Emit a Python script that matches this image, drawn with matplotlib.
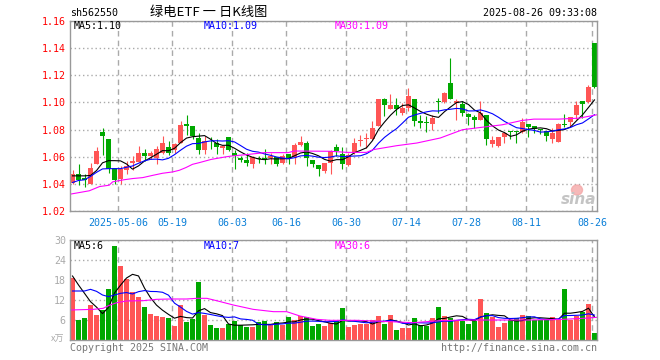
import matplotlib
matplotlib.use("Agg")
import matplotlib.pyplot as plt
from matplotlib.patches import Ellipse
import numpy as np
import pandas as pd

# daily OHLC (88 sessions, 2025-04-21 .. 2025-08-26)
opens = [1.0405, 1.047, 1.0445, 1.040, 1.055, 1.078, 1.0727, 1.052, 1.0434, 1.050,
         1.0555, 1.0563, 1.0625, 1.0605, 1.059, 1.063, 1.0673, 1.065, 1.070, 1.0838,
         1.083, 1.0735, 1.0648, 1.071, 1.0703, 1.0665, 1.0746, 1.0625, 1.0593, 1.0573,
         1.0549, 1.059, 1.0588, 1.059, 1.0598, 1.0551, 1.0617, 1.0598, 1.0683, 1.0698,
         1.0573, 1.0537, 1.0495, 1.0556, 1.0672, 1.0622, 1.0541, 1.0627, 1.0714, 1.0731,
         1.0731, 1.083, 1.1027, 1.0953, 1.0978, 1.0923, 1.0961, 1.1022, 1.0862, 1.0852,
         1.0844, 1.101, 1.1003, 1.1141, 1.0999, 1.0985, 1.0916, 1.0891, 1.0867, 1.0909,
         1.0694, 1.0679, 1.0748, 1.079, 1.079, 1.078, 1.084, 1.083, 1.0805, 1.0793,
         1.0728, 1.0706, 1.0842, 1.0859, 1.0909, 1.1007, 1.100, 1.1435]
highs = [1.0505, 1.055, 1.047, 1.0555, 1.067, 1.081, 1.073, 1.052, 1.053, 1.057,
         1.0605, 1.068, 1.066, 1.064, 1.068, 1.075, 1.0715, 1.070, 1.086, 1.091,
         1.083, 1.0775, 1.0755, 1.0745, 1.0727, 1.068, 1.0746, 1.065, 1.0605, 1.0625,
         1.0605, 1.0605, 1.066, 1.063, 1.060, 1.0617, 1.0617, 1.0703, 1.0751, 1.0715,
         1.0573, 1.0537, 1.0556, 1.0653, 1.0696, 1.0672, 1.0627, 1.0738, 1.0763, 1.0775,
         1.0862, 1.1027, 1.1035, 1.1064, 1.1035, 1.0998, 1.1109, 1.1027, 1.0911, 1.0899,
         1.0911, 1.1035, 1.1077, 1.1331, 1.1022, 1.101, 1.092, 1.0909, 1.1007, 1.0909,
         1.0753, 1.0743, 1.0785, 1.079, 1.079, 1.0884, 1.0842, 1.083, 1.0805, 1.0793,
         1.081, 1.0847, 1.0916, 1.0891, 1.1007, 1.1007, 1.1131, 1.1435]
lows = [1.040, 1.039, 1.038, 1.040, 1.0545, 1.061, 1.048, 1.040, 1.0398, 1.047,
        1.050, 1.056, 1.0568, 1.058, 1.055, 1.0617, 1.061, 1.063, 1.070, 1.0763,
        1.0727, 1.0617, 1.0617, 1.066, 1.0622, 1.0622, 1.064, 1.0512, 1.056, 1.0532,
        1.0515, 1.0556, 1.0545, 1.055, 1.053, 1.0544, 1.0544, 1.0544, 1.0678, 1.0532,
        1.0527, 1.0459, 1.0483, 1.0471, 1.0602, 1.0511, 1.0528, 1.0622, 1.0677, 1.0664,
        1.0726, 1.083, 1.0899, 1.0948, 1.0911, 1.0911, 1.0936, 1.0825, 1.0812, 1.078,
        1.080, 1.0923, 1.0998, 1.1022, 1.0874, 1.0899, 1.0835, 1.081, 1.0867, 1.0686,
        1.0674, 1.0669, 1.0699, 1.0728, 1.0704, 1.0773, 1.0743, 1.0778, 1.0768, 1.0716,
        1.0699, 1.0706, 1.0822, 1.0822, 1.0877, 1.0884, 1.0995, 1.1109]
closes = [1.047, 1.043, 1.0425, 1.052, 1.0645, 1.0755, 1.051, 1.0425, 1.0512, 1.053,
          1.0565, 1.063, 1.0605, 1.063, 1.066, 1.070, 1.0625, 1.0695, 1.0837, 1.083,
          1.075, 1.0646, 1.0715, 1.0705, 1.0673, 1.068, 1.0649, 1.0605, 1.0573, 1.0556,
          1.0598, 1.0585, 1.058, 1.0605, 1.0549, 1.0605, 1.0593, 1.0683, 1.0707, 1.0588,
          1.0549, 1.0507, 1.0551, 1.0641, 1.0644, 1.0548, 1.0615, 1.0701, 1.0726, 1.0738,
          1.0812, 1.1022, 1.0978, 1.0978, 1.0948, 1.0961, 1.1047, 1.0862, 1.085, 1.0848,
          1.0886, 1.1003, 1.1072, 1.1022, 1.101, 1.0923, 1.0896, 1.0867, 1.0921, 1.0728,
          1.0723, 1.0743, 1.0773, 1.0783, 1.0783, 1.0859, 1.0817, 1.0805, 1.0798, 1.0753,
          1.0773, 1.084, 1.0837, 1.0891, 1.0983, 1.099, 1.1114, 1.1115]
# volume in 10k lots ("万")
volumes = [18.7, 6.0, 6.6, 10.5, 7.5, 9.0, 15.3, 28.2, 22.2, 18.3,
           14.5, 12.9, 9.9, 7.8, 7.2, 6.9, 6.6, 4.2, 10.5, 5.4,
           6.3, 17.4, 7.5, 4.5, 3.6, 3.6, 4.8, 5.7, 4.5, 3.9,
           3.9, 5.4, 5.7, 4.5, 5.4, 4.5, 6.9, 6.0, 7.2, 6.9,
           4.2, 4.8, 4.2, 5.0, 5.8, 9.6, 3.9, 4.5, 4.8, 4.8,
           6.0, 7.2, 4.8, 7.5, 3.0, 3.6, 3.6, 6.6, 4.5, 4.2,
           6.6, 9.9, 7.2, 6.6, 6.0, 5.7, 4.8, 5.7, 12.3, 8.1,
           6.9, 3.9, 5.1, 6.0, 6.6, 7.5, 7.2, 6.0, 6.0, 6.0,
           6.9, 6.0, 15.3, 6.0, 7.2, 8.4, 10.8, 2.1]

date_ticks = [8, 17, 27, 36, 46, 56, 66, 76, 87]
date_labels = ["2025-05-06", "05-19", "06-03", "06-16", "06-30",
               "07-14", "07-28", "08-11", "08-26"]

# moving-average values before a full window is available
price_ma5_head = [1.0459, 1.0459, 1.0459, 1.0462]
price_ma10_head = [1.041, 1.0425, 1.043, 1.0455, 1.0485, 1.051, 1.0512, 1.0512, 1.0512]
vol_ma5_head = [19.2, 16.5, 14.0, 11.5]
vol_ma10_head = [14.7, 14.7, 14.7, 15.2, 14.6, 13.5, 13.0, 13.5, 14.0]

# MA30 lines at these bar positions
price_ma30_x = [-0.4, 2.8, 4.5, 6.1, 6.7, 8.4, 10, 11.7, 13.4, 15, 16.7, 17.8, 18.9,
                20, 21.1, 23.1, 25.4, 26.5, 29.3, 32, 35.9, 37, 43, 45.7, 49, 50.1,
                54, 57.4, 61.3, 65, 68.25, 71.6, 74.9, 76.9, 81, 84.4, 87.4]
price_ma30_y = [1.0324, 1.0349, 1.038, 1.039, 1.0415, 1.0429, 1.0439, 1.0446, 1.0463,
                1.0478, 1.0488, 1.050, 1.052, 1.0544, 1.0556, 1.058, 1.0598, 1.0605,
                1.0617, 1.063, 1.063, 1.0642, 1.064, 1.0632, 1.0632, 1.0652, 1.0681,
                1.0701, 1.0738, 1.0799, 1.0817, 1.0835, 1.0867, 1.0877, 1.0877,
                1.0884, 1.0909]
vol_ma30_x = [-0.4, 3.5, 5.1, 6.25, 7.4, 9.0, 11.8, 14.0, 16.25, 19.0, 20.7, 22.4,
              24.0, 26.8, 30.1, 33.5, 35.7, 37.9, 40.7, 42.9, 47.4, 52.9, 56.8, 61.3,
              66.25, 70.7, 76.25, 81.8, 85.1, 87.4]
vol_ma30_y = [9.0, 9.2, 9.5, 10.5, 11.2, 11.7, 11.8, 12.2, 12.3, 12.3, 12.5, 12.5,
              11.8, 10.5, 9.2, 8.5, 8.5, 7.2, 6.2, 5.9, 5.9, 5.5, 5.2, 5.8,
              6.0, 6.0, 6.0, 6.2, 6.5, 6.8]

RED = "#ff5555"
GREEN = "#00a800"
GRID = "#aaaaaa"
MONO = "DejaVu Sans Mono"
CJK = ["Noto Sans CJK SC", "DejaVu Sans"]
FS = 7.2

W, H = 660, 360


def fx(x):
    return x / W


def fy(y):
    return 1 - y / H


def moving_avg(values, n, head):
    ma = pd.Series(values).rolling(n).mean().to_numpy()
    ma[:n - 1] = head
    return ma


def style_axes(a):
    a.set_xlim(-0.42, 87.42)
    a.set_xticks(np.array(date_ticks) - 0.35)
    a.set_axisbelow(True)
    a.grid(axis="x", color=GRID, ls=(0, (4, 3)), lw=1)
    a.grid(axis="y", color=GRID, ls=(0, (1, 2)), lw=1)
    a.tick_params(length=0, pad=3)
    for s in a.spines.values():
        s.set_color("#999999")
        s.set_linewidth(1)


fig = plt.figure(figsize=(W / 100, H / 100), dpi=100)
ax = fig.add_axes([fx(70), fy(211), (597 - 70) / W, (211 - 21) / H])
axv = fig.add_axes([fx(70), fy(340), (597 - 70) / W, 100 / H])

o, h, l, c = (np.array(v) for v in (opens, highs, lows, closes))
x = np.arange(len(c))
colors = np.where(c >= o, RED, GREEN)

# candles
ax.vlines(x, l, h, colors=colors, lw=0.8)
body = np.maximum(np.abs(c - o), 0.0006)
ax.bar(x, body, bottom=np.minimum(o, c), width=0.83, color=colors, linewidth=0)
ax.plot(x, moving_avg(closes, 5, price_ma5_head), color="black", lw=0.8)
ax.plot(x, moving_avg(closes, 10, price_ma10_head), color="#0000ff", lw=0.8)
ax.plot(price_ma30_x, price_ma30_y, color="#ff00ff", lw=0.8)

style_axes(ax)
ax.set_ylim(1.02, 1.16)
ax.set_yticks(np.arange(1.02, 1.1601, 0.02))
ax.set_yticklabels([f"{v:.2f}" for v in np.arange(1.02, 1.1601, 0.02)],
                   color="#ff0000", family=MONO, fontsize=FS)
ax.set_xticklabels(date_labels, color="#0a7fd8", family=MONO, fontsize=FS)
ax.tick_params(axis="x", pad=5)

# volume
axv.bar(x, volumes, width=0.83, color=colors, linewidth=0)
axv.plot(x, moving_avg(volumes, 5, vol_ma5_head), color="black", lw=0.8)
axv.plot(x, moving_avg(volumes, 10, vol_ma10_head), color="#0000ff", lw=0.8)
axv.plot(vol_ma30_x, vol_ma30_y, color="#ff00ff", lw=0.8)
style_axes(axv)
axv.set_ylim(0, 30)
axv.set_yticks([6, 12, 18, 24, 30])
axv.set_yticklabels(["6", "12", "18", "24", "30"], color="#aaaaaa",
                    family=MONO, fontsize=FS)
axv.set_xticklabels([])

# header
fig.text(fx(70), fy(13), "sh562550", family=MONO, fontsize=FS, va="center")
fig.text(fx(209), fy(12), "绿电ETF 一 日K线图", family=CJK, fontsize=9.5,
         ha="center", va="center")
fig.text(fx(597), fy(13), "2025-08-26 09:33:08", family=MONO, fontsize=FS,
         ha="right", va="center")

# MA legends
for ypx, texts in ((26, ("MA5:1.10", "MA10:1.09", "MA30:1.09")),
                   (246, ("MA5:6", "MA10:7", "MA30:6"))):
    for xpx, t, col in zip((74, 204, 335), texts, ("black", "#0000ff", "#ff00ff")):
        fig.text(fx(xpx), fy(ypx), t, family=MONO, fontsize=FS, color=col,
                 va="center")

fig.text(fx(64), fy(339), "x万", family=CJK, fontsize=6.5, color="#aaaaaa",
         ha="right", va="center")

# footer
fig.text(fx(70), fy(348), "Copyright 2025 SINA.COM", family=MONO, fontsize=FS,
         color="#777777", va="center")
fig.text(fx(597), fy(348), "http://finance.sina.com.cn", family=MONO, fontsize=FS,
         color="#777777", ha="right", va="center")

# sina watermark
fig.patches.append(Ellipse((fx(577), fy(190)), 11 / W, 10 / H,
                           transform=fig.transFigure, color="#f4a8a8", alpha=0.8))
fig.text(fx(596), fy(199), "sina", fontsize=11, style="italic", weight="bold",
         color="#c4c4c4", ha="right", va="center")

fig.savefig("out.png", dpi=100)
